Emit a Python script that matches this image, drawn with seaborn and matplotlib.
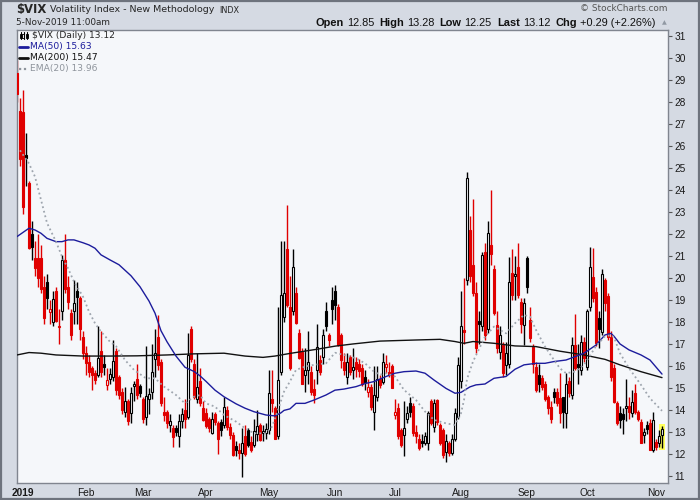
"""
$VIX daily candlestick chart (StockCharts style) with MA(50), MA(200) and EMA(20).
Writes out.png at 700x500.
"""

import numpy as np
import pandas as pd
import matplotlib
matplotlib.use("Agg")
import matplotlib.pyplot as plt
from matplotlib.patches import Rectangle
from matplotlib.lines import Line2D
import seaborn as sns

# ==========================================
# DATA
# ==========================================
holidays = ['2019-01-01', '2019-01-21', '2019-02-18', '2019-04-19',
            '2019-05-27', '2019-07-04', '2019-09-02']
prev_close = 29.96  # close of 27-Dec-2018, used only for the first candle colour

opens = [29.3, 27.6,
         # Jan
         27.54, 25.6, 24.3, 22.0, 20.9, 20.9, 20.9, 19.6, 19.8, 18.45, 18.0, 19.4, 17.75, 18.5, 20.8,
         19.6, 18.4, 18.5, 19.4, 19.1, 17.3,
         # Feb
         16.6, 16.2, 15.9, 15.7, 15.6, 16.7, 16.1, 15.15, 15.4, 15.5, 16.7, 15.5, 14.8, 13.9, 14.4,
         13.85, 15.1, 15.4, 15.1,
         # Mar
         14.5, 13.7, 14.5, 14.8, 16.3, 17.3, 16.2, 13.9, 13.9, 13.3, 13.2, 13.2, 12.8, 13.5, 14.0,
         13.7, 17.7, 16.1, 14.5, 15.3, 14.1,
         # Apr
         13.85, 13.6, 12.95, 13.8, 13.4, 13.45, 13.3, 14.0, 13.24, 12.86, 12.36, 12.18, 12.03, 12.8,
         13.1, 12.56, 12.4, 12.9, 13.3, 12.94, 12.95,
         # May
         13.1, 14.5, 14.07, 12.8, 15.74, 18.24, 21.3, 18.7, 18.5, 19.3, 17.5, 16.65, 15.6, 15.8,
         15.74, 14.94, 15.8, 16.27, 16.4, 18.5, 17.4, 19.0,
         # Jun
         19.4, 18.7, 17.4, 16.2, 15.5, 16.4, 15.8, 16.2, 16.1, 15.9, 15.5, 14.83, 15.06, 13.9, 14.6,
         15.4, 15.29, 15.97, 15.74, 16.0,
         # Jul
         13.77, 14.07, 13.1, 12.86, 13.6, 14.33, 14.2, 13.0, 12.7, 12.6, 12.5, 12.5, 14.4, 13.24,
         14.45, 13.3, 13.1, 12.1, 12.5, 12.03, 12.7, 13.7,
         # Aug
         15.3, 17.65, 19.9, 22.2, 20.6, 19.3, 18.05, 17.8, 21.2, 17.7, 21.5, 20.4, 17.86, 16.65,
         16.95, 16.05, 16.1, 20.24, 20.1, 20.5, 18.9, 17.86,
         # Sep
         20.9, 18.1, 16.88, 15.97, 15.6, 15.44, 15.2, 14.6, 14.15, 14.8, 14.8, 14.53, 14.6, 13.85,
         15.3, 14.68, 16.95, 16.1, 15.8, 17.1,
         # Oct
         15.97, 18.67, 20.06, 19.38, 18.2, 17.55, 19.9, 19.2, 17.3, 15.9, 14.3, 13.86, 13.8, 14.1,
         14.2, 13.86, 14.77, 13.9, 13.45, 12.86, 13.3, 13.4, 12.2,
         # Nov
         12.55, 12.5, 12.85]

highs = [29.9, 28.2,
         28.53, 26.6, 24.4, 22.6, 21.7, 22.0, 21.5, 20.1, 20.2, 19.0, 19.4, 19.6, 18.6, 21.05, 22.0,
         20.1, 18.6, 19.9, 19.8, 19.2, 17.6,
         16.9, 16.5, 16.0, 15.8, 17.8, 17.6, 16.5, 15.9, 15.9, 17.2, 16.8, 15.6, 15.0, 15.05, 14.5,
         15.05, 15.3, 16.1, 15.2,
         14.6, 16.9, 15.0, 17.0, 17.7, 18.3, 16.3, 14.6, 14.0, 13.8, 13.3, 13.3, 13.8, 14.1, 14.5,
         17.5, 17.8, 16.3, 16.6, 15.9, 14.4,
         14.1, 13.7, 13.9, 13.9, 13.5, 13.6, 14.6, 14.2, 13.4, 13.0, 12.6, 12.5, 13.2, 13.3, 13.2,
         12.8, 13.6, 14.0, 13.4, 13.3, 13.4,
         15.8, 15.8, 14.2, 18.7, 21.7, 21.7, 23.3, 20.1, 21.3, 19.6, 17.7, 16.8, 16.8, 17.6, 16.0,
         15.4, 17.9, 16.5, 17.7, 18.9, 17.5, 19.6,
         19.7, 18.8, 17.5, 16.6, 16.6, 16.5, 16.8, 16.4, 16.3, 16.1, 15.8, 15.4, 15.2, 16.0, 16.0,
         15.6, 16.6, 16.5, 16.2, 16.1,
         14.5, 14.3, 13.2, 14.4, 14.2, 14.6, 14.3, 13.3, 12.9, 12.9, 13.0, 13.95, 14.5, 14.5, 14.5,
         13.4, 13.2, 12.9, 12.6, 12.9, 14.1, 16.4,
         19.4, 20.0, 24.8, 22.8, 23.6, 19.8, 18.5, 21.2, 21.6, 22.6, 24.0, 20.6, 18.5, 17.8, 17.1,
         17.1, 20.97, 21.3, 21.0, 21.6, 19.1, 19.1,
         21.0, 18.7, 17.0, 16.2, 16.1, 15.6, 15.3, 14.7, 14.4, 15.0, 15.0, 15.7, 14.6, 15.7, 15.5,
         17.3, 18.36, 17.0, 17.4, 17.3,
         18.6, 21.4, 21.35, 19.6, 18.5, 20.4, 20.0, 19.3, 17.6, 16.1, 14.4, 14.2, 14.1, 15.4, 14.6,
         14.9, 15.2, 14.0, 13.6, 13.2, 13.5, 13.6, 13.9,
         12.7, 13.1, 13.28]

lows = [28.0, 25.1,
        22.9, 24.2, 21.3, 20.8, 20.1, 19.6, 19.3, 17.9, 18.6, 17.9, 17.8, 18.0, 17.0, 18.1, 19.3,
        18.6, 17.2, 17.9, 17.9, 17.2, 16.3,
        15.6, 15.5, 14.9, 15.2, 15.5, 15.5, 15.6, 14.9, 15.2, 15.3, 14.7, 14.5, 13.8, 13.7, 13.3,
        13.4, 14.4, 14.5, 14.6,
        13.4, 13.3, 13.8, 14.5, 15.5, 15.8, 14.2, 13.5, 13.2, 13.0, 12.3, 12.8, 12.3, 13.2, 13.2,
        13.6, 16.2, 14.5, 14.3, 14.2, 13.5,
        13.2, 13.0, 12.9, 13.3, 12.0, 12.8, 13.2, 13.1, 12.7, 11.9, 11.9, 11.75, 10.97, 11.9, 12.3,
        12.1, 12.3, 12.6, 12.6, 12.6, 12.7,
        12.9, 13.9, 12.7, 12.7, 15.6, 18.0, 18.7, 15.8, 18.3, 17.9, 16.3, 15.2, 14.8, 15.2, 14.7,
        14.3, 15.2, 15.6, 16.1, 17.6, 16.9, 17.9,
        18.1, 16.9, 15.9, 15.6, 15.2, 15.6, 15.4, 15.5, 15.5, 15.1, 14.9, 14.6, 14.0, 13.1, 14.4,
        15.0, 15.2, 15.7, 15.5, 15.0,
        13.6, 12.7, 12.3, 11.9, 13.4, 13.7, 12.8, 12.5, 12.2, 12.3, 12.4, 12.2, 13.3, 13.0, 13.3,
        12.4, 11.8, 11.65, 11.9, 11.95, 12.6, 13.6,
        15.0, 17.0, 19.7, 19.8, 19.2, 16.6, 17.0, 17.6, 17.2, 17.5, 20.6, 18.3, 16.6, 16.3, 15.5,
        15.6, 15.9, 19.0, 19.0, 19.1, 17.5, 16.95,
        19.3, 17.1, 15.7, 14.8, 14.8, 14.9, 14.4, 13.8, 13.4, 14.3, 14.2, 13.4, 13.2, 13.2, 14.6,
        14.5, 15.8, 15.2, 15.6, 16.2,
        15.8, 18.5, 18.9, 16.9, 16.8, 17.4, 18.5, 17.2, 15.3, 14.3, 13.3, 13.2, 12.9, 13.5, 13.6,
        13.7, 13.8, 13.5, 12.5, 12.5, 12.9, 12.2, 12.1,
        12.2, 12.3, 12.25]

closes = [28.34, 25.42,
          23.22, 25.45, 21.38, 21.40, 20.47, 19.98, 19.50, 18.19, 19.07, 18.60, 19.04, 18.06, 17.80,
          20.80, 19.52, 18.89, 17.42, 18.87, 19.13, 17.66, 16.57,
          16.14, 15.73, 15.57, 15.38, 16.37, 15.72, 15.97, 15.38, 15.65, 16.22, 14.91, 14.7, 14.02,
          14.4, 13.51, 14.76, 15.17, 14.70, 14.78,
          13.57, 14.63, 14.74, 15.74, 16.59, 16.05, 14.33, 13.77, 13.41, 13.5, 12.75, 13.0, 13.5,
          13.8, 13.6, 16.48, 16.33, 14.6, 15.06, 14.3, 13.55,
          13.25, 13.2, 13.6, 13.47, 12.7, 13.1, 14.15, 13.24, 12.86, 11.95, 12.2, 12.03, 12.5, 12.0,
          12.4, 12.18, 13.06, 13.25, 12.64, 13.06, 13.12,
          14.76, 14.3, 12.7, 15.36, 19.23, 19.3, 18.77, 15.9, 20.5, 17.97, 16.35, 15.2, 15.8, 16.2,
          14.83, 14.7, 16.85, 15.74, 17.4, 17.8, 17.2, 18.6,
          18.77, 16.95, 16.27, 15.8, 16.2, 15.74, 15.95, 15.85, 15.75, 15.2, 15.25, 15.03, 14.15,
          14.7, 15.4, 15.14, 16.2, 16.1, 15.6, 15.0,
          13.9, 12.8, 12.4, 13.16, 13.85, 13.92, 12.94, 12.8, 12.25, 12.52, 12.8, 13.85, 13.4, 14.33,
          13.47, 12.5, 11.95, 12.6, 12.05, 12.7, 13.85, 16.05,
          17.8, 17.55, 24.55, 20.1, 19.3, 16.8, 17.9, 21.05, 17.4, 22.03, 21.1, 18.4, 16.8, 17.4,
          15.67, 16.6, 19.8, 19.23, 20.2, 19.23, 17.9, 18.88,
          19.6, 17.26, 16.1, 14.9, 15.2, 15.06, 14.5, 14.07, 13.6, 14.57, 14.3, 13.85, 13.9, 15.2,
          14.76, 16.95, 15.9, 15.97, 17.1, 16.35,
          18.5, 20.5, 19.1, 17.04, 17.7, 20.2, 18.86, 17.3, 15.5, 14.36, 13.4, 13.55, 13.6, 14.2,
          13.9, 14.36, 13.9, 13.6, 12.5, 13.0, 13.15, 12.2, 13.55,
          12.3, 12.83, 13.12]

# moving averages, sampled off the chart (bar index -> value)
ma50_idx = [0, 4, 6, 8, 10, 13, 15, 17, 19, 22, 24, 26, 28, 31, 34, 38, 41, 44, 46, 48, 50, 53,
            56, 59, 61, 63, 66, 69, 73, 76, 79, 83, 86, 88, 89, 91, 93, 96, 99, 103, 106, 109,
            113, 116, 119, 123, 126, 129, 133, 136, 139, 143, 146, 148, 151, 153, 156, 159, 163,
            166, 169, 173, 176, 179, 183, 186, 189, 193, 196, 198, 199, 201, 204, 208, 211, 215]
ma50 = [21.88, 22.26, 22.18, 22.03, 21.8, 21.65, 21.65, 21.73, 21.73, 21.6, 21.5, 21.35, 21.05,
        20.82, 20.6, 20.1, 19.6, 18.95, 18.4, 17.6, 17.1, 16.45, 15.94, 15.75, 15.55, 15.3, 14.9,
        14.6, 14.28, 14.08, 13.92, 13.77, 13.73, 13.87, 13.98, 14.05, 14.3, 14.3, 14.45, 14.68,
        14.9, 14.95, 15.06, 15.2, 15.29, 15.52, 15.67, 15.74, 15.77, 15.67, 15.36, 14.98, 14.76,
        14.8, 15.05, 15.14, 15.18, 15.44, 15.52, 15.85, 16.05, 16.12, 16.12, 16.2, 16.27, 16.42,
        16.58, 16.95, 17.41, 17.48, 17.35, 17.0, 16.73, 16.5, 16.27, 15.63]

ma200_idx = [0, 4, 8, 13, 22, 31, 40, 50, 59, 69, 76, 82, 86, 91, 100, 106, 112, 121, 133, 141,
             146, 149, 152, 159, 166, 173, 181, 189, 196, 201, 208, 215]
ma200 = [16.5, 16.61, 16.58, 16.5, 16.45, 16.45, 16.46, 16.5, 16.55, 16.58, 16.45, 16.39, 16.45,
         16.57, 16.76, 16.9, 17.0, 17.13, 17.18, 17.21, 17.11, 17.03, 17.11, 17.03, 16.91, 16.88,
         16.67, 16.5, 16.3, 16.05, 15.74, 15.47]

ema20_idx = [1, 4, 6, 8, 10, 13, 15, 17, 19, 22, 24, 26, 28, 31, 33, 36, 39, 43, 46, 49, 53, 56,
             59, 61, 63, 66, 69, 73, 76, 79, 83, 85, 87, 89, 91, 93, 96, 99, 103, 106, 109, 113,
             116, 119, 121, 123, 126, 129, 133, 136, 139, 143, 146, 148, 149, 150, 152, 156, 159,
             163, 166, 169, 171, 173, 176, 179, 181, 183, 186, 189, 193, 196, 198, 199, 201, 204,
             208, 211, 215]
ema20 = [25.8, 25.2, 24.6, 23.55, 22.5, 21.65, 20.97, 20.44, 19.83, 19.15, 18.47, 17.94, 17.56,
         17.1, 16.9, 16.27, 15.82, 15.44, 15.44, 15.06, 14.68, 14.3, 14.6, 14.68, 14.3, 14.15,
         13.77, 13.47, 13.17, 12.94, 12.94, 13.24, 14.0, 14.83, 15.3, 15.82, 15.97, 16.05, 16.12,
         16.6, 16.5, 16.35, 16.12, 15.74, 15.6, 15.67, 15.52, 14.91, 14.45, 13.93, 13.55, 13.39,
         13.32, 13.85, 14.45, 15.4, 16.2, 17.33, 17.79, 17.48, 17.94, 18.32, 18.24, 17.64, 16.88,
         16.27, 15.89, 15.67, 15.74, 16.05, 16.9, 17.35, 17.4, 17.3, 16.58, 15.9, 15.14, 14.53,
         13.96]

month_labels = ['2019', 'Feb', 'Mar', 'Apr', 'May', 'Jun', 'Jul', 'Aug', 'Sep', 'Oct', 'Nov']
y_ticks = list(range(11, 32))

# ==========================================
# PREP
# ==========================================
dates = pd.bdate_range('2018-12-28', '2019-11-05', freq='C', holidays=holidays)
df = pd.DataFrame({'date': dates, 'open': opens, 'high': highs, 'low': lows, 'close': closes})
df['x'] = np.arange(len(df))
df['prev'] = df['close'].shift(1).fillna(prev_close)

RED = '#E00000'
BLACK = '#000000'
PLOT_BG = '#F5F7FA'
FIG_BG = '#D5DAE3'

df['edge'] = np.where(df['close'] >= df['prev'], BLACK, RED)
df['face'] = np.where(df['close'] > df['open'], PLOT_BG, df['edge'])

# first trading day of each month from Jan-2019 on
firsts = df[df['date'] >= '2019-01-01'].groupby(df['date'].dt.to_period('M'))['x'].min().values

# ==========================================
# FIGURE
# ==========================================
sns.set_style("white")
plt.rcParams['font.family'] = ['DejaVu Sans']

W, H = 700, 500
fig = plt.figure(figsize=(7, 5), dpi=100, facecolor=FIG_BG)
ax = fig.add_axes([17 / W, 17 / H, 651 / W, 453 / H])
ax.set_facecolor(PLOT_BG)


def px(x, y):
    return x / W, 1 - y / H


# highlight of the last bar
last = df.iloc[-1]
ax.add_patch(Rectangle((last['x'] - 0.9, last['low'] - 0.08), 1.8, last['high'] - last['low'] + 0.16,
                       facecolor='#FFFF5A', edgecolor='none', zorder=1))

# candles
ax.vlines(df['x'], df['low'], df['high'], colors=df['edge'], linewidth=1.0, zorder=2)
ax.bar(df['x'], np.maximum((df['close'] - df['open']).abs(), 0.05),
       bottom=np.minimum(df['open'], df['close']), width=0.68,
       color=df['face'], edgecolor=df['edge'], linewidth=0.8, zorder=3)

# moving averages
sns.lineplot(x=ma200_idx, y=ma200, ax=ax, color='#111111', linewidth=1.0, zorder=4)
sns.lineplot(x=ma50_idx, y=ma50, ax=ax, color='#1C1C9C', linewidth=1.0, zorder=4)
sns.lineplot(x=ema20_idx, y=ema20, ax=ax, color='#9EA5AE', linewidth=1.3,
             linestyle=(0, (1, 1.6)), zorder=4)

ax.set_xlim(0, 217)
ax.set_ylim(10.68, 31.27)
ax.set_xlabel('')
ax.set_ylabel('')

# axes
ax.yaxis.tick_right()
ax.set_yticks(y_ticks)
ax.set_yticklabels([str(v) for v in y_ticks], family='Liberation Sans', fontsize=7.3, color='#1A1A1A')
ax.set_xticks(firsts)
ax.set_xticklabels(month_labels, family='Liberation Sans', fontsize=7.3, color='#1A1A1A')
ax.get_xticklabels()[0].set_fontweight('bold')
ax.tick_params(axis='y', direction='out', length=3, pad=1.5, color='#555555', width=0.8)
ax.tick_params(axis='x', direction='out', length=2, pad=1.5, color='#777777', width=0.8)
for s in ax.spines.values():
    s.set_color('#80858F')
    s.set_linewidth(1.0)
ax.grid(False)

# ==========================================
# TEXT
# ==========================================
fig.text(*px(16, 10), '$VIX', fontsize=8.4, fontweight='bold', va='center', ha='left')
fig.text(*px(50, 10), 'Volatility Index - New Methodology', fontsize=6.8, va='center', ha='left')
fig.text(*px(219, 10.5), 'INDX', fontsize=5.9, va='center', ha='left')
fig.text(*px(16, 22.5), '5-Nov-2019 11:00am', fontsize=6.4, va='center', ha='left')
fig.text(*px(668, 8.5), '\u00a9 StockCharts.com', fontsize=6.4, color='#555555',
         va='center', ha='right')

pieces = [('Open', 'bold'), ('12.85', 'normal'), ('High', 'bold'), ('13.28', 'normal'),
          ('Low', 'bold'), ('12.25', 'normal'), ('Last', 'bold'), ('13.12', 'normal'),
          ('Chg', 'bold'), ('+0.29 (+2.26%)', 'normal')]
renderer = fig.canvas.get_renderer()
xpos = 316
for txt, wt in pieces:
    t = fig.text(*px(xpos, 22.5), txt, family='Liberation Sans', fontsize=7.9, fontweight=wt,
                 va='center', ha='left', color='#111111')
    w = t.get_window_extent(renderer).width
    xpos += w + (3 if wt == 'bold' else 5)
fig.text(*px(664, 22.5), '\u25b2', fontsize=4.5, color='#9098A3', va='center', ha='center')

# legend inside plot
fig.text(*px(31.5, 35), '$VIX (Daily) 13.12', fontsize=6.6, va='center', ha='left')
fig.text(*px(29.5, 46.5), 'MA(50) 15.63', fontsize=6.6, va='center', ha='left', color='#1C1C9C')
fig.text(*px(29.5, 57.5), 'MA(200) 15.47', fontsize=6.6, va='center', ha='left', color='#111111')
fig.text(*px(29.5, 69), 'EMA(20) 13.96', fontsize=6.6, va='center', ha='left', color='#8E949C')

for yy, col, ls, lw in [(46.5, '#1C1C9C', '-', 2.0), (57.5, '#111111', '-', 2.0),
                        (69, '#8E949C', (0, (1, 1.2)), 1.6)]:
    x0, y0 = px(19, yy)
    x1, _ = px(27.5, yy)
    fig.add_artist(Line2D([x0, x1], [y0, y0], color=col, linestyle=ls, linewidth=lw))

# little candle icon for the price row
for cx, filled in [(20.5, True), (23.5, False), (26.5, True)]:
    xa, ya = px(cx, 39)
    _, yb = px(cx, 31.5)
    fig.add_artist(Line2D([xa, xa], [ya, yb], color='black', linewidth=0.8))
    bx, by = px(cx - 1, 37.5)
    fig.add_artist(Rectangle((bx, by), 2 / W, 4 / H, transform=fig.transFigure,
                             facecolor='black' if filled else PLOT_BG, edgecolor='black',
                             linewidth=0.6))

# outer frame
fig.add_artist(Rectangle((0.0015, 0.002), 0.997, 0.996, transform=fig.transFigure, fill=False,
                         edgecolor='#6E737D', linewidth=1.6))

fig.savefig('out.png', dpi=100, facecolor=fig.get_facecolor())
